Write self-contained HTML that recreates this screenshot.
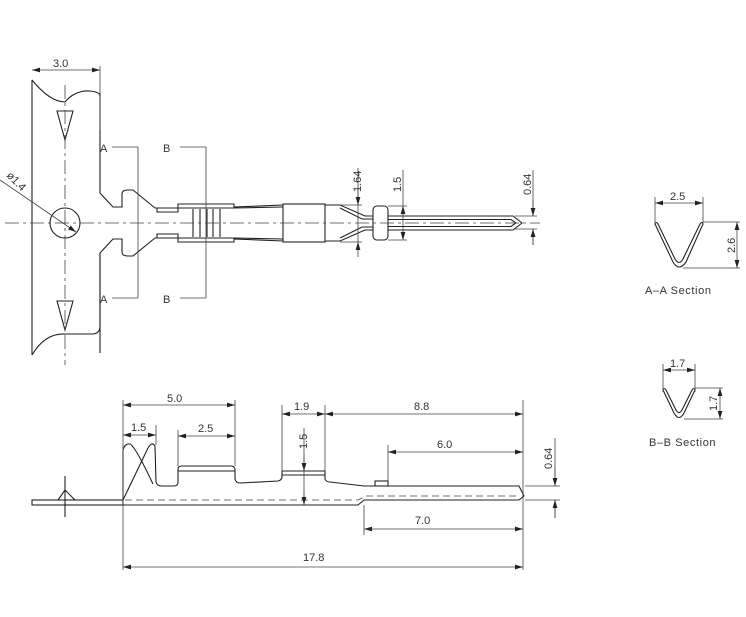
<!DOCTYPE html>
<html><head><meta charset="utf-8"><style>
html,body{margin:0;padding:0;background:#fff;}
svg{display:block}
text{font-family:"Liberation Sans",sans-serif;font-size:11px;fill:#333;}
</style></head><body>
<svg width="746" height="617" viewBox="0 0 746 617" xmlns="http://www.w3.org/2000/svg">
<defs>
<marker id="ar" viewBox="0 0 10 6" refX="10" refY="3" markerWidth="8" markerHeight="5" orient="auto-start-reverse" markerUnits="userSpaceOnUse"><path d="M0,0 L10,3 L0,6 z" fill="#222"/></marker>
<g id="half">
<path d="M100,93 L100,193 L113,207 L122,207 L122,194 Q122,190 128,190 L133,190 L155,208 L157,208 L157,212 L178,212 L178,204 L234,204 L234,207 L283,205" />
<path d="M157,208 L178,208 M178,208 L234,208 M234,208 L283,207"/>
</g>
</defs>
<g fill="none" stroke="#222" stroke-width="1.1">
<path d="M32,80 L32,355"/>
<path d="M32,80 Q50,102 65,102 Q75,90 90,91 Q100,92 100,96"/>
<path d="M32,355 Q45,333 65,334 L92,334 Q100,334 100,326"/>
<use href="#half"/>
<use href="#half" transform="translate(0,446) scale(1,-1)"/>
<path d="M100,253 L100,326"/>
<circle cx="65" cy="223" r="15"/>
<path d="M193,209V237M200,209V237M207,209V237M213,209V237M220,209V237"/>
<rect x="283" y="204" width="42" height="38"/>
<path d="M325,205 L340,205 L365,216 L373,216 M325,241 L340,241 L365,230 L373,230"/>
<path d="M340,208 L362,219 L373,219 M340,238 L362,227 L373,227"/>
<rect x="373" y="206" width="15" height="34" rx="4"/>
<path d="M388,216 L513,216 L522,223 L513,230 L388,230"/>
<path d="M388,219.5 L511,219.5 L516,223 L511,226.5 L388,226.5"/>
<path d="M57,111 L73,111 L65,140 Z M57,301 L73,301 L65,330 Z"/>
</g>
<g fill="none" stroke="#444" stroke-width="0.8">
<path d="M5,223 H540" stroke-dasharray="14,4,3,4"/>
<path d="M65,85 V365" stroke-dasharray="14,4,3,4"/>
<path d="M100,66 V130"/>
<path d="M32,70 H100" marker-start="url(#ar)" marker-end="url(#ar)"/>
<path d="M0,180 L76,232" marker-end="url(#ar)"/>
<path d="M138,147 V298 M206,147 V298"/>
<path d="M112,147 H138 M112,298 H138 M180,147 H206 M180,298 H206"/>
<path d="M358,168 V242 M340,205 H362 M340,242 H362"/>
<path d="M358,190 V205" marker-end="url(#ar)"/><path d="M358,257 V242" marker-end="url(#ar)"/>
<path d="M403,170 V240 M388,206 H407 M388,240 H407"/>
<path d="M403,215 V206" marker-end="url(#ar)"/><path d="M403,231 V240" marker-end="url(#ar)"/>
<path d="M533,170 V216 M533,229 V245 M515,216 H537 M515,229 H537"/>
<path d="M533,200 V216" marker-end="url(#ar)"/><path d="M533,245 V229" marker-end="url(#ar)"/>
</g>
<g stroke="none">
<text x="53" y="67">3.0</text>
<text x="0" y="0" transform="translate(6,176) rotate(45)">ø1.4</text>
<text x="100" y="152" font-size="13">A</text><text x="100" y="303" font-size="13">A</text>
<text x="163" y="152" font-size="13">B</text><text x="163" y="303" font-size="13">B</text>
<text transform="translate(361,192) rotate(-90)">1.64</text>
<text transform="translate(401,192) rotate(-90)">1.5</text>
<text transform="translate(531,195) rotate(-90)">0.64</text>
</g>

<!-- side view -->
<g fill="none" stroke="#222" stroke-width="1.1">
<rect x="32" y="500" width="91" height="5"/>
<path d="M123,500 L123,450 Q125,443 130,444 Q135,446 153,484 M123,500 L148,448 Q152,441 155,446 L156,482 Q157,486 162,486 L174,486 Q178,486 178,482 L178,469 Q178,466 182,466 L231,466 Q235,466 235,470 L235,479 Q236,483 240,483 L278,481 Q282,480 282,477 L282,471 L325,471 L325,479 Q326,482 330,482 L364,486 L519,486 L524,496 L519,500 L364,500 L358,505 L123,505"/>
<path d="M178,471 H235 M282,475 H325"/>
<rect x="375" y="481" width="13" height="5"/>
<path d="M58,500 L65,490 L75,500 M65,476 V517"/>
</g>
<g fill="none" stroke="#444" stroke-width="0.8">
<path d="M125,500 H358 L366,496 H519" stroke-dasharray="7,4"/>
<path d="M123,400 V570 M235,400 V466 M523,400 V570 M282,405 V471 M325,405 V471 M388,445 V481 M156,425 V445 M178,430 V466 M364,505 V535 M304,428 V505"/>
<path d="M123,405 H235" marker-start="url(#ar)" marker-end="url(#ar)"/>
<path d="M123,435 H156" marker-start="url(#ar)" marker-end="url(#ar)"/>
<path d="M178,436 H235" marker-start="url(#ar)" marker-end="url(#ar)"/>
<path d="M282,414 H325" marker-start="url(#ar)" marker-end="url(#ar)"/>
<path d="M325,414 H523" marker-start="url(#ar)" marker-end="url(#ar)"/>
<path d="M388,452 H523" marker-start="url(#ar)" marker-end="url(#ar)"/>
<path d="M364,529 H523" marker-start="url(#ar)" marker-end="url(#ar)"/>
<path d="M123,567 H523" marker-start="url(#ar)" marker-end="url(#ar)"/>
<path d="M304,455 V471" marker-end="url(#ar)"/><path d="M304,490 V505" marker-end="url(#ar)"/>
<path d="M525,486 H560 M525,500 H560 M555,438 V486 M555,500 V518"/>
<path d="M555,468 V486" marker-end="url(#ar)"/><path d="M555,518 V500" marker-end="url(#ar)"/>
</g>
<g stroke="none" font-size="12">
<text x="167" y="402" font-size="12">5.0</text>
<text x="131" y="431" font-size="12">1.5</text>
<text x="198" y="432" font-size="12">2.5</text>
<text x="294" y="410" font-size="12">1.9</text>
<text x="414" y="410" font-size="12">8.8</text>
<text x="437" y="448" font-size="12">6.0</text>
<text x="415" y="524" font-size="12">7.0</text>
<text x="303" y="561" font-size="12">17.8</text>
<text transform="translate(307,449) rotate(-90)" font-size="12">1.5</text>
<text transform="translate(552,469) rotate(-90)" font-size="12">0.64</text>
</g>

<!-- sections -->
<g fill="none" stroke="#222" stroke-width="1.1">
<path d="M655,224 L673,262 Q679,272 686,262 L703,224 Q702,221 700,224 L683,259 Q679,266 675,259 L658,224 Q656,221 655,224 Z"/>
<path d="M663,390 L674,413 Q679,422 684,413 L695,390 Q694,387 692,390 L682,410 Q679,415 676,410 L666,390 Q664,387 663,390 Z"/>
</g>
<g fill="none" stroke="#444" stroke-width="0.8">
<path d="M655,197 V225 M703,197 V225"/>
<path d="M655,203 H703" marker-start="url(#ar)" marker-end="url(#ar)"/>
<path d="M703,222 H740 M683,268 H740"/>
<path d="M737,222 V268" marker-start="url(#ar)" marker-end="url(#ar)"/>
<path d="M663,364 V392 M695,364 V392"/>
<path d="M663,370 H695" marker-start="url(#ar)" marker-end="url(#ar)"/>
<path d="M695,388 H723 M684,419 H723"/>
<path d="M720,388 V419" marker-start="url(#ar)" marker-end="url(#ar)"/>
</g>
<g stroke="none">
<text x="670" y="200" font-size="12">2.5</text>
<text transform="translate(735,253) rotate(-90)" font-size="12">2.6</text>
<text x="645" y="294" font-size="12" letter-spacing="0.6">A–A  Section</text>
<text x="670" y="367" font-size="12">1.7</text>
<text transform="translate(717,411) rotate(-90)" font-size="12">1.7</text>
<text x="649" y="446" font-size="12" letter-spacing="0.6">B–B  Section</text>
</g>
</svg>
</body></html>
